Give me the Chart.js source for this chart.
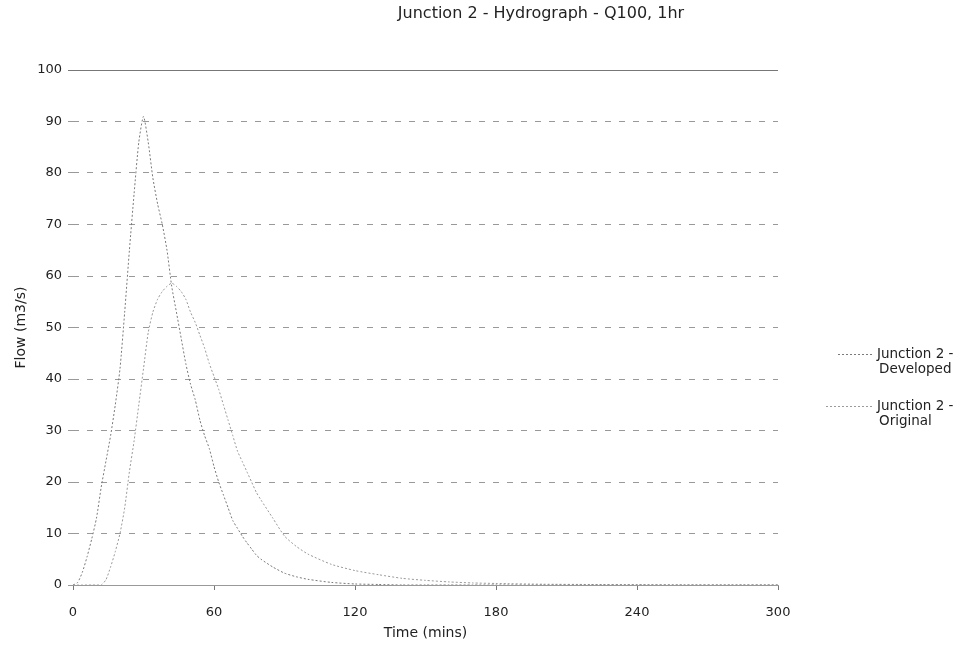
<!DOCTYPE html>
<html>
<head>
<meta charset="utf-8">
<title>Junction 2 - Hydrograph - Q100, 1hr</title>
<script src="https://cdn.jsdelivr.net/npm/chart.js@4/dist/chart.umd.min.js"></script>
<style>
  html, body { margin: 0; padding: 0; background: #fff; }
  #wrap { width: 961px; height: 646px; position: relative; }
</style>
</head>
<body>
<div id="wrap"><canvas id="hydro-chart"></canvas></div>
<script>
// hydrograph values

var chartTitle = 'Junction 2 - Hydrograph - Q100, 1hr';

var minutes = [0, 2, 4, 6, 8, 10, 12, 14, 16, 18, 20, 22, 24, 26, 28, 30, 32, 34, 36, 38,
    40, 42, 44, 46, 48, 50, 52, 54, 56, 58, 60, 62, 64, 66, 68, 70, 72, 74, 76, 78,
    80, 85, 90, 95, 100, 110, 120, 130, 140, 150, 160, 170, 180, 200, 220, 240, 260, 280, 300];

var developedFlow = [0, 0.5, 2.5, 5.5, 9, 13, 19, 24, 29, 35, 42, 53, 65, 76, 86, 91, 86, 79, 74, 70,
    65, 58, 53, 48, 43, 39, 36, 32, 29, 26.5, 23, 20, 17.5, 15, 12.5, 11, 9.5, 8.2, 7, 5.8,
    5, 3.5, 2.3, 1.6, 1.1, 0.5, 0.2, 0.1, 0, 0, 0, 0, 0, 0, 0, 0, 0, 0, 0];

var originalFlow = [0, 0, 0, 0, 0, 0, 0, 1, 3.5, 6.5, 10, 15, 22, 28, 35, 42, 49, 53, 55.5, 57,
    58, 58.6, 58, 57, 55.5, 53, 51, 48.5, 46, 43, 40.5, 38, 35, 32, 29, 26, 24, 22, 20, 18,
    16.5, 13, 9.5, 7.5, 6, 4, 2.8, 2, 1.3, 0.9, 0.6, 0.4, 0.3, 0.15, 0.1, 0.05, 0, 0, 0];

var seriesNames = [['Junction 2 -', 'Developed'], ['Junction 2 -', 'Original']];

var xTicks = [0, 60, 120, 180, 240, 300];
var yTicks = [0, 10, 20, 30, 40, 50, 60, 70, 80, 90, 100];

function toPoints(values) {
    return minutes.map(function (t, i) {
        return { x: t, y: values[i] };
    });
}

var textFont = 'DejaVu Sans';

// title, legend and top border are drawn by hand like the old report
var extrasPlugin = {
    id: 'extras',
    beforeDatasetsDraw: function (chart) {
        var ctx = chart.ctx;
        var area = chart.chartArea;
        ctx.save();
        ctx.strokeStyle = '#777';
        ctx.lineWidth = 1;
        ctx.beginPath();
        ctx.moveTo(area.left - 5, area.top + 0.5);
        ctx.lineTo(area.right, area.top + 0.5);
        ctx.stroke();
        ctx.restore();
    },
    afterDraw: function (chart) {
        var ctx = chart.ctx;
        ctx.save();
        ctx.fillStyle = '#222';
        ctx.font = '16px "' + textFont + '"';
        ctx.textAlign = 'center';
        ctx.textBaseline = 'middle';
        ctx.fillText(chartTitle, 541, 14);

        var rows = [354, 406];
        var starts = [838, 826];
        chart.data.datasets.forEach(function (ds, i) {
            var y = rows[i];
            ctx.strokeStyle = ds.borderColor;
            ctx.lineWidth = 1;
            ctx.setLineDash(ds.borderDash);
            ctx.beginPath();
            ctx.moveTo(starts[i], y + 0.5);
            ctx.lineTo(874, y + 0.5);
            ctx.stroke();
            ctx.setLineDash([]);
            ctx.textAlign = 'left';
            ctx.font = '13.5px "' + textFont + '"';
            ctx.fillStyle = '#222';
            ctx.fillText(seriesNames[i][0], 877, y);
            ctx.fillText(seriesNames[i][1], 879, y + 15);
        });
        ctx.restore();
    }
};

var ctx = document.getElementById('hydro-chart').getContext('2d');

var hydroChart = new Chart(ctx, {
    type: 'line',
    data: {
        datasets: [{
            label: seriesNames[0].join(' '),
            data: toPoints(developedFlow),
            borderColor: '#7a7a7a',
            borderWidth: 1,
            borderDash: [2, 2],
            pointRadius: 0,
            tension: 0.2,
            fill: false
        }, {
            label: seriesNames[1].join(' '),
            data: toPoints(originalFlow),
            borderColor: '#9a9a9a',
            borderWidth: 1,
            borderDash: [2, 2],
            pointRadius: 0,
            tension: 0.2,
            fill: false
        }]
    },
    options: {
        responsive: true,
        maintainAspectRatio: false,
        animation: false,
        layout: {
            padding: { top: 70, right: 183, bottom: 0, left: 0 }
        },
        plugins: {
            legend: { display: false },
            title: { display: false },
            tooltip: { enabled: false }
        },
        scales: {
            x: {
                type: 'linear',
                min: 0,
                max: 300,
                afterFit: function (scale) { scale.height = 61; },
                afterBuildTicks: function (scale) {
                    scale.ticks = xTicks.map(function (v) { return { value: v }; });
                },
                ticks: {
                    color: '#222',
                    padding: 15,
                    maxRotation: 0,
                    font: { family: textFont, size: 13 }
                },
                grid: {
                    drawOnChartArea: false,
                    drawTicks: true,
                    tickLength: 5,
                    color: '#777'
                },
                border: { display: true, color: '#999' },
                title: {
                    display: true,
                    text: 'Time (mins)',
                    color: '#222',
                    font: { family: textFont, size: 14 },
                    padding: { top: 0, bottom: 4 }
                }
            },
            y: {
                min: 0,
                max: 100,
                afterFit: function (scale) { scale.width = 73; },
                afterBuildTicks: function (scale) {
                    scale.ticks = yTicks.map(function (v) { return { value: v }; });
                },
                ticks: {
                    color: '#222',
                    padding: 6,
                    font: { family: textFont, size: 13 }
                },
                grid: {
                    color: '#999',
                    tickLength: 5,
                    tickColor: '#999'
                },
                border: { display: false, dash: [6, 8] },
                title: {
                    display: true,
                    text: 'Flow (m3/s)',
                    color: '#222',
                    font: { family: textFont, size: 14 },
                    padding: { top: 13, bottom: 0 }
                }
            }
        }
    },
    plugins: [extrasPlugin]
});
</script>
</body>
</html>
